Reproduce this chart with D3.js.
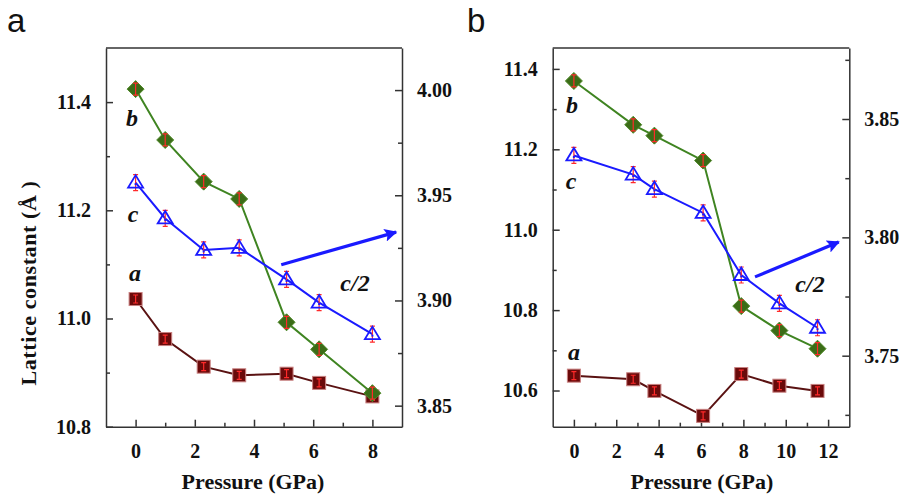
<!DOCTYPE html>
<html>
<head>
<meta charset="utf-8">
<script src="https://cdn.jsdelivr.net/npm/d3@7"></script>
<style>
  body { margin: 0; background: #fff; }
  svg { display: block; }
  .tick text { font-family: "Liberation Serif", Tinos, "Times New Roman", Times, "DejaVu Serif", serif; font-weight: bold; font-size: 20px; fill: #111; }
  .domain, .tick line { stroke: #333; stroke-width: 1.5; }
</style>
</head>
<body>
<svg width="903" height="495"></svg>
<script>
// panel a
var pressureA = [0, 1.0, 2.3, 3.5, 5.1, 6.2, 8.0];
var aA = [11.036, 10.962, 10.911, 10.895, 10.898, 10.881, 10.856];
var bA = [11.424, 11.330, 11.253, 11.221, 10.993, 10.943, 10.862];
var cHalfA = [3.956, 3.939, 3.924, 3.925, 3.910, 3.899, 3.884];
var leftTicksA = [10.8, 11.0, 11.2, 11.4];
var rightTicksA = [3.85, 3.90, 3.95, 4.00];
var xTicksA = [0, 2, 4, 6, 8];

// panel b
var pressureB = [0, 2.8, 3.8, 6.1, 7.9, 9.7, 11.5];
var aB = [10.637, 10.628, 10.599, 10.537, 10.641, 10.612, 10.599];
var bB = [11.370, 11.261, 11.234, 11.172, 10.810, 10.749, 10.704];
var cHalfB = [3.8346, 3.8265, 3.8204, 3.8103, 3.7841, 3.7721, 3.7618];
var leftTicksB = [10.6, 10.8, 11.0, 11.2, 11.4];
var rightTicksB = [3.75, 3.80, 3.85];
var xTicksB = [0, 2, 4, 6, 8, 10, 12];

var svg = d3.select('svg');

var defs = svg.append('defs');
defs.append('marker')
    .attr('id', 'arrow')
    .attr('viewBox', '0 0 10 10')
    .attr('refX', 9).attr('refY', 5)
    .attr('markerWidth', 5).attr('markerHeight', 4)
    .attr('markerUnits', 'strokeWidth')
    .attr('orient', 'auto')
  .append('path')
    .attr('d', 'M0,0 L10,5 L0,10 L2,5 Z')
    .attr('fill', '#1a1aff');

var serif = '"Liberation Serif", Tinos, "Times New Roman", Times, "DejaVu Serif", serif';

function drawPanel(cfg) {
  var g = svg.append('g');
  var x = d3.scaleLinear().domain(cfg.xDomain).range([cfg.left, cfg.right]);
  var yL = d3.scaleLinear().domain(cfg.leftDomain).range([cfg.bottom, cfg.top]);
  var yR = d3.scaleLinear().domain(cfg.rightDomain).range([cfg.bottom, cfg.top]);

  // minor ticks
  g.append('g').attr('transform', 'translate(' + cfg.left + ',0)')
    .call(d3.axisLeft(yL).tickValues(cfg.leftMinor).tickFormat('').tickSize(-4))
    .select('.domain').remove();
  g.append('g').attr('transform', 'translate(' + cfg.right + ',0)')
    .call(d3.axisRight(yR).tickValues(cfg.rightMinor).tickFormat('').tickSize(-4))
    .select('.domain').remove();
  g.append('g').attr('transform', 'translate(0,' + cfg.bottom + ')')
    .call(d3.axisBottom(x).tickValues(cfg.xMinor).tickFormat('').tickSize(-4))
    .select('.domain').remove();

  // major axes
  var axes = [
    g.append('g').attr('transform', 'translate(' + cfg.left + ',0)')
      .call(d3.axisLeft(yL).tickValues(cfg.leftTicks).tickFormat(d3.format('.1f')).tickSizeInner(-7).tickSizeOuter(0).tickPadding(15)),
    g.append('g').attr('transform', 'translate(' + cfg.right + ',0)')
      .call(d3.axisRight(yR).tickValues(cfg.rightTicks).tickFormat(d3.format('.2f')).tickSizeInner(-7).tickSizeOuter(0).tickPadding(15)),
    g.append('g').attr('transform', 'translate(0,' + cfg.bottom + ')')
      .call(d3.axisBottom(x).tickValues(cfg.xTicks).tickFormat(d3.format('d')).tickSizeInner(-7).tickSizeOuter(0).tickPadding(17))
  ];
  axes.forEach(a => a.attr('font-family', null).attr('font-size', null));

  // top frame line
  g.append('line')
    .attr('x1', cfg.left).attr('x2', cfg.right)
    .attr('y1', cfg.top).attr('y2', cfg.top)
    .attr('stroke', '#333').attr('stroke-width', 1.5);

  function series(xs, ys, yScale, lineColor) {
    var pts = xs.map((v, i) => [x(v), yScale(ys[i])]);
    g.append('path')
      .attr('d', d3.line()(pts))
      .attr('fill', 'none')
      .attr('stroke', lineColor)
      .attr('stroke-width', 2);
    return pts;
  }

  function errBars(pts, h) {
    pts.forEach(p => {
      g.append('path')
        .attr('d', 'M' + p[0] + ',' + (p[1] - h) + 'V' + (p[1] + h) +
                   'M' + (p[0] - 2.5) + ',' + (p[1] - h) + 'h5' +
                   'M' + (p[0] - 2.5) + ',' + (p[1] + h) + 'h5')
        .attr('stroke', '#ff2a2a').attr('stroke-width', 1.2).attr('fill', 'none');
    });
  }

  // a : squares
  var pa = series(cfg.px, cfg.a, yL, '#5a1212');
  g.selectAll(null).data(pa).enter().append('rect')
    .attr('x', d => d[0] - 6.5).attr('y', d => d[1] - 6.5)
    .attr('width', 13).attr('height', 13)
    .attr('fill', '#6a0a0a').attr('stroke', '#c98080').attr('stroke-width', 1);
  errBars(pa, 4);

  // b : diamonds
  var pb = series(cfg.px, cfg.b, yL, '#3f8421');
  g.selectAll(null).data(pb).enter().append('path')
    .attr('d', d => 'M' + d[0] + ',' + (d[1] - 8.5) + 'l8.5,8.5l-8.5,8.5l-8.5,-8.5z')
    .attr('fill', '#3b6c17').attr('stroke', '#4f8a2a').attr('stroke-width', 1);
  errBars(pb, 6);

  // c/2 : triangles
  var pc = series(cfg.px, cfg.c, yR, '#1a1aff');
  errBars(pc, 8);
  g.selectAll(null).data(pc).enter().append('path')
    .attr('d', d => 'M' + d[0] + ',' + (d[1] - 7.5) + 'l7.5,12.5h-15z')
    .attr('fill', 'none').attr('stroke', '#1a1aff').attr('stroke-width', 1.8);
  g.selectAll(null).data(pc).enter().append('rect')
    .attr('x', d => d[0] - 1).attr('y', d => d[1] + 0.5)
    .attr('width', 2).attr('height', 2).attr('fill', '#1a1aff');

  // arrow
  g.append('line')
    .attr('x1', x(cfg.arrow[0])).attr('y1', yR(cfg.arrow[1]))
    .attr('x2', x(cfg.arrow[2])).attr('y2', yR(cfg.arrow[3]))
    .attr('stroke', '#1a1aff').attr('stroke-width', 3.2)
    .attr('marker-end', 'url(#arrow)');

  // series labels
  cfg.labels.forEach(l => {
    g.append('text')
      .attr('x', l[1]).attr('y', l[2])
      .attr('text-anchor', 'middle')
      .style('font-family', serif).style('font-weight', 'bold').style('font-style', 'italic')
      .style('font-size', '24px').attr('fill', '#111')
      .text(l[0]);
  });

  // x title
  g.append('text')
    .attr('x', cfg.titleX).attr('y', 489)
    .attr('text-anchor', 'middle')
    .style('font-family', serif).style('font-weight', 'bold').style('font-size', '22px')
    .attr('fill', '#111')
    .text('Pressure (GPa)');

  // panel letter
  g.append('text')
    .attr('x', cfg.letterX).attr('y', 32)
    .style('font-family', '"Liberation Sans", Arial, sans-serif').style('font-size', '33px')
    .attr('fill', '#111')
    .text(cfg.letter);
}

drawPanel({
  left: 106, right: 402, top: 48, bottom: 426.7,
  xDomain: [-1, 9], leftDomain: [10.8, 11.5], rightDomain: [3.84, 4.02],
  leftTicks: leftTicksA, rightTicks: rightTicksA, xTicks: xTicksA,
  leftMinor: [10.9, 11.1, 11.3], rightMinor: [3.875, 3.925, 3.975], xMinor: [1, 3, 5, 7],
  px: pressureA, a: aA, b: bA, c: cHalfA,
  arrow: [4.92, 3.917, 8.8, 3.9325],
  labels: [['b', 132, 126], ['c', 133, 222], ['a', 135, 281], ['c/2', 355, 291]],
  titleX: 253, letter: 'a', letterX: 7
});

drawPanel({
  left: 552.7, right: 849.3, top: 48, bottom: 426.7,
  xDomain: [-1, 13], leftDomain: [10.51, 11.452], rightDomain: [3.72, 3.88],
  leftTicks: leftTicksB, rightTicks: rightTicksB, xTicks: xTicksB,
  leftMinor: [10.7, 10.9, 11.1, 11.3], rightMinor: [3.725, 3.775, 3.825, 3.875], xMinor: [1, 3, 5, 7, 9, 11],
  px: pressureB, a: aB, b: bB, c: cHalfB,
  arrow: [8.55, 3.7833, 12.5, 3.798],
  labels: [['b', 572, 113], ['c', 571, 189], ['a', 574, 360], ['c/2', 810, 292]],
  titleX: 702, letter: 'b', letterX: 467
});

// y title
svg.append('text')
  .attr('transform', 'translate(36,283) rotate(-90)')
  .attr('text-anchor', 'middle')
  .style('font-family', serif).style('font-weight', 'bold').style('font-size', '22px')
  .style('letter-spacing', '0.6px')
  .attr('fill', '#111')
  .text('Lattice constant (Å )');
</script>
</body>
</html>
